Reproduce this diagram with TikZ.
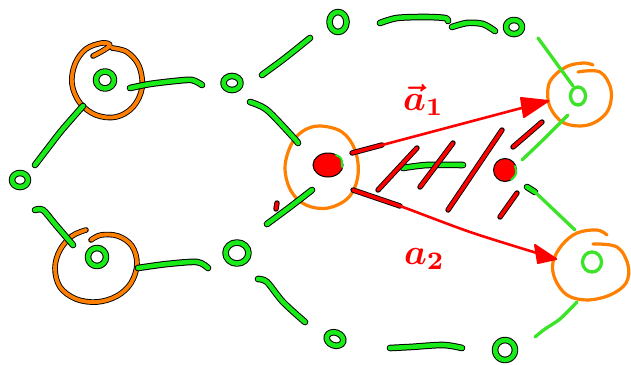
\documentclass[tikz,border=0pt]{standalone}
\usepackage{graphicx}
\usetikzlibrary{shapes.geometric}
\definecolor{gr}{RGB}{25,235,25}
\definecolor{lgr}{RGB}{60,228,40}
\definecolor{org}{RGB}{255,128,0}
\definecolor{rd}{RGB}{255,0,0}
\tikzset{
  inked/.style={draw=black, double=#1, double distance=4.6pt, line width=1pt,
                line cap=round, line join=round},
  gline/.style={inked=gr},
  gnode/.style={ellipse, inked=gr, inner sep=0pt},
  lgline/.style={draw=lgr, line width=3.3pt, line cap=round, line join=round},
  lgnode/.style={ellipse, draw=lgr, line width=3.3pt, inner sep=0pt},
  oline/.style={draw=black, double=org, double distance=3.8pt, line width=0.9pt,
                line cap=round, line join=round},
  othin/.style={draw=org, line width=3.2pt, line cap=round, line join=round},
  rline/.style={draw=black, double=rd, double distance=3.6pt, line width=0.9pt,
                line cap=round, line join=round},
  rthin/.style={draw=rd, line width=2.6pt, line cap=round, line join=round},
  rhead/.style={fill=rd, draw=rd, line width=2pt, line join=round},
  lbl/.style={text=rd, font=\boldmath, inner sep=0pt, anchor=base west}
}
\begin{document}
\begin{tikzpicture}[x=1pt,y=-1pt]
\useasboundingbox (0,0) rectangle (631,364);

% small green vertices
\node[gnode, minimum width=18pt, minimum height=17pt] (A) at (105,80) {};
\node[gnode, minimum width=17pt, minimum height=14pt] (B) at (232,83) {};
\node[gnode, minimum width=16pt, minimum height=14pt] (C) at (20,180) {};
\node[gnode, minimum width=18pt, minimum height=18pt] (D) at (97,257) {};
\node[gnode, minimum width=23pt, minimum height=21pt] (E) at (237,253) {};
\node[gnode, minimum width=17pt, minimum height=20pt] (F) at (338,22) {};
\node[gnode, minimum width=16pt, minimum height=14pt] (G) at (514,27) {};
\node[gnode, minimum width=17pt, minimum height=13pt, rotate=-20] (J) at (335,339) {};
\node[gnode, minimum width=20pt, minimum height=20pt] (K) at (505,350) {};
\node[lgnode, minimum width=15pt, minimum height=18pt] (H) at (578,96) {};
\node[lgnode, minimum width=19pt, minimum height=20pt] (I) at (592,262) {};

% red vertices
\node[ellipse, fill=rd, draw=black, line width=1pt, minimum width=30pt, minimum height=24pt] (P) at (328,165) {};
\draw[draw=gr, line width=2pt, line cap=round] (336,155) .. controls (342,158) .. (342,167);
\node[circle, fill=rd, draw=black, line width=1pt, minimum size=23pt] (Q) at (505,170) {};
\draw[draw=gr, line width=2pt, line cap=round] (515,166) .. controls (517,174) .. (511,180);

% orange rings
\draw[oline] plot[smooth, tension=0.6] coordinates {(93,56) (104,50) (110,45) (102,43) (86,49) (75,64) (72,84) (80,103) (96,115) (116,117) (133,107) (142,88) (139,66) (127,52) (112,48)};
\draw[oline] plot[smooth, tension=0.6] coordinates {(86,230) (72,236) (60,250) (55,268) (60,287) (76,299) (97,302) (117,296) (131,283) (137,264) (132,246) (118,236) (101,235) (91,240)};
\draw[othin] plot[smooth cycle, tension=0.6] coordinates {(320,126) (342,132) (355,150) (358,175) (349,197) (328,208) (306,205) (291,191) (285,168) (291,145) (303,131)};
\draw[othin] plot[smooth, tension=0.6] coordinates {(578,72) (600,72) (611,90) (607,112) (588,125) (564,123) (550,107) (548,88) (554,76) (568,66) (584,63) (593,65)};
\draw[othin] plot[smooth, tension=0.6] coordinates {(593,244) (617,247) (628,265) (626,283) (610,295) (587,300) (567,295) (555,279) (553,262) (562,245) (577,233) (597,230) (607,235)};

% green edges
\draw[gline] plot[smooth] coordinates {(83,106) (62,130) (48,148) (35,165)};
\draw[gline] plot[smooth] coordinates {(130,88) (150,84) (175,81) (192,80) (202,85)};
\draw[gline] plot[smooth] coordinates {(262,75) (285,58) (310,38)};
\draw[gline] plot[smooth] coordinates {(250,102) (267,110) (293,137) (298,143)};
\draw[gline] plot[smooth] coordinates {(380,23) (397,18) (425,17) (445,18) (448,21)};
\draw[gline] plot[smooth] coordinates {(452,27) (467,23) (483,24) (495,31)};
\draw[lgline] (538,38) -- (573,86);
\draw[lgline] plot[smooth] coordinates {(568,115) (545,138) (522,160)};
\draw[gline] plot[smooth] coordinates {(35,210) (43,210) (55,224) (73,245)};
\draw[gline] plot[smooth] coordinates {(138,268) (167,264) (197,262) (208,268)};
\draw[gline] plot[smooth] coordinates {(258,279) (267,282) (283,302) (305,322)};
\draw[gline] plot[smooth] coordinates {(267,224) (290,207) (312,190)};
\draw[gline] plot[smooth] coordinates {(403,168) (427,165) (463,165)};
\draw[gline] (527,187) -- (535,192);
\draw[lgline] (535,192) -- (575,230);
\draw[lgline] plot[smooth] coordinates {(577,302) (560,319) (545,329) (535,337)};
\draw[gline] plot[smooth] coordinates {(390,348) (410,347) (443,345) (462,348)};

% hatching between the two vectors
\draw[rline] (378,190) -- (417,148);
\draw[rline] (420,187) -- (453,143);
\draw[rline] (448,210) -- (502,130);
\draw[rline] (513,147) -- (542,122);
\draw[rline] (500,217) -- (517,193);
\draw[rline] (277,203) -- (276,209);

% vector a1
\coordinate (a1s) at (352,153);
\coordinate (a1m) at (382,145);
\coordinate (a1e) at (548,101);
\draw[rline] (a1s) -- (a1m);
\draw[rthin] (a1s) -- (a1e);
\draw[rhead] (a1e) -- (521,98) -- (524,117) -- cycle;

% vector a2
\coordinate (a2s) at (353,190);
\coordinate (a2e) at (556,259);
\draw[rline] (a2s) -- (400,206);
\draw[rthin] plot[smooth] coordinates {(a2s) (400,206) (470,232) (540,254) (a2e)};
\draw[rhead] (a2e) -- (535,245) -- (538,263) -- cycle;

% labels
\node[lbl] (L1) at (403,110) {\scalebox{3.6}{$\vec{a}_1$}};
\node[lbl] (L2) at (404,264) {\scalebox{3.6}{$a_2$}};
\end{tikzpicture}
\end{document}
